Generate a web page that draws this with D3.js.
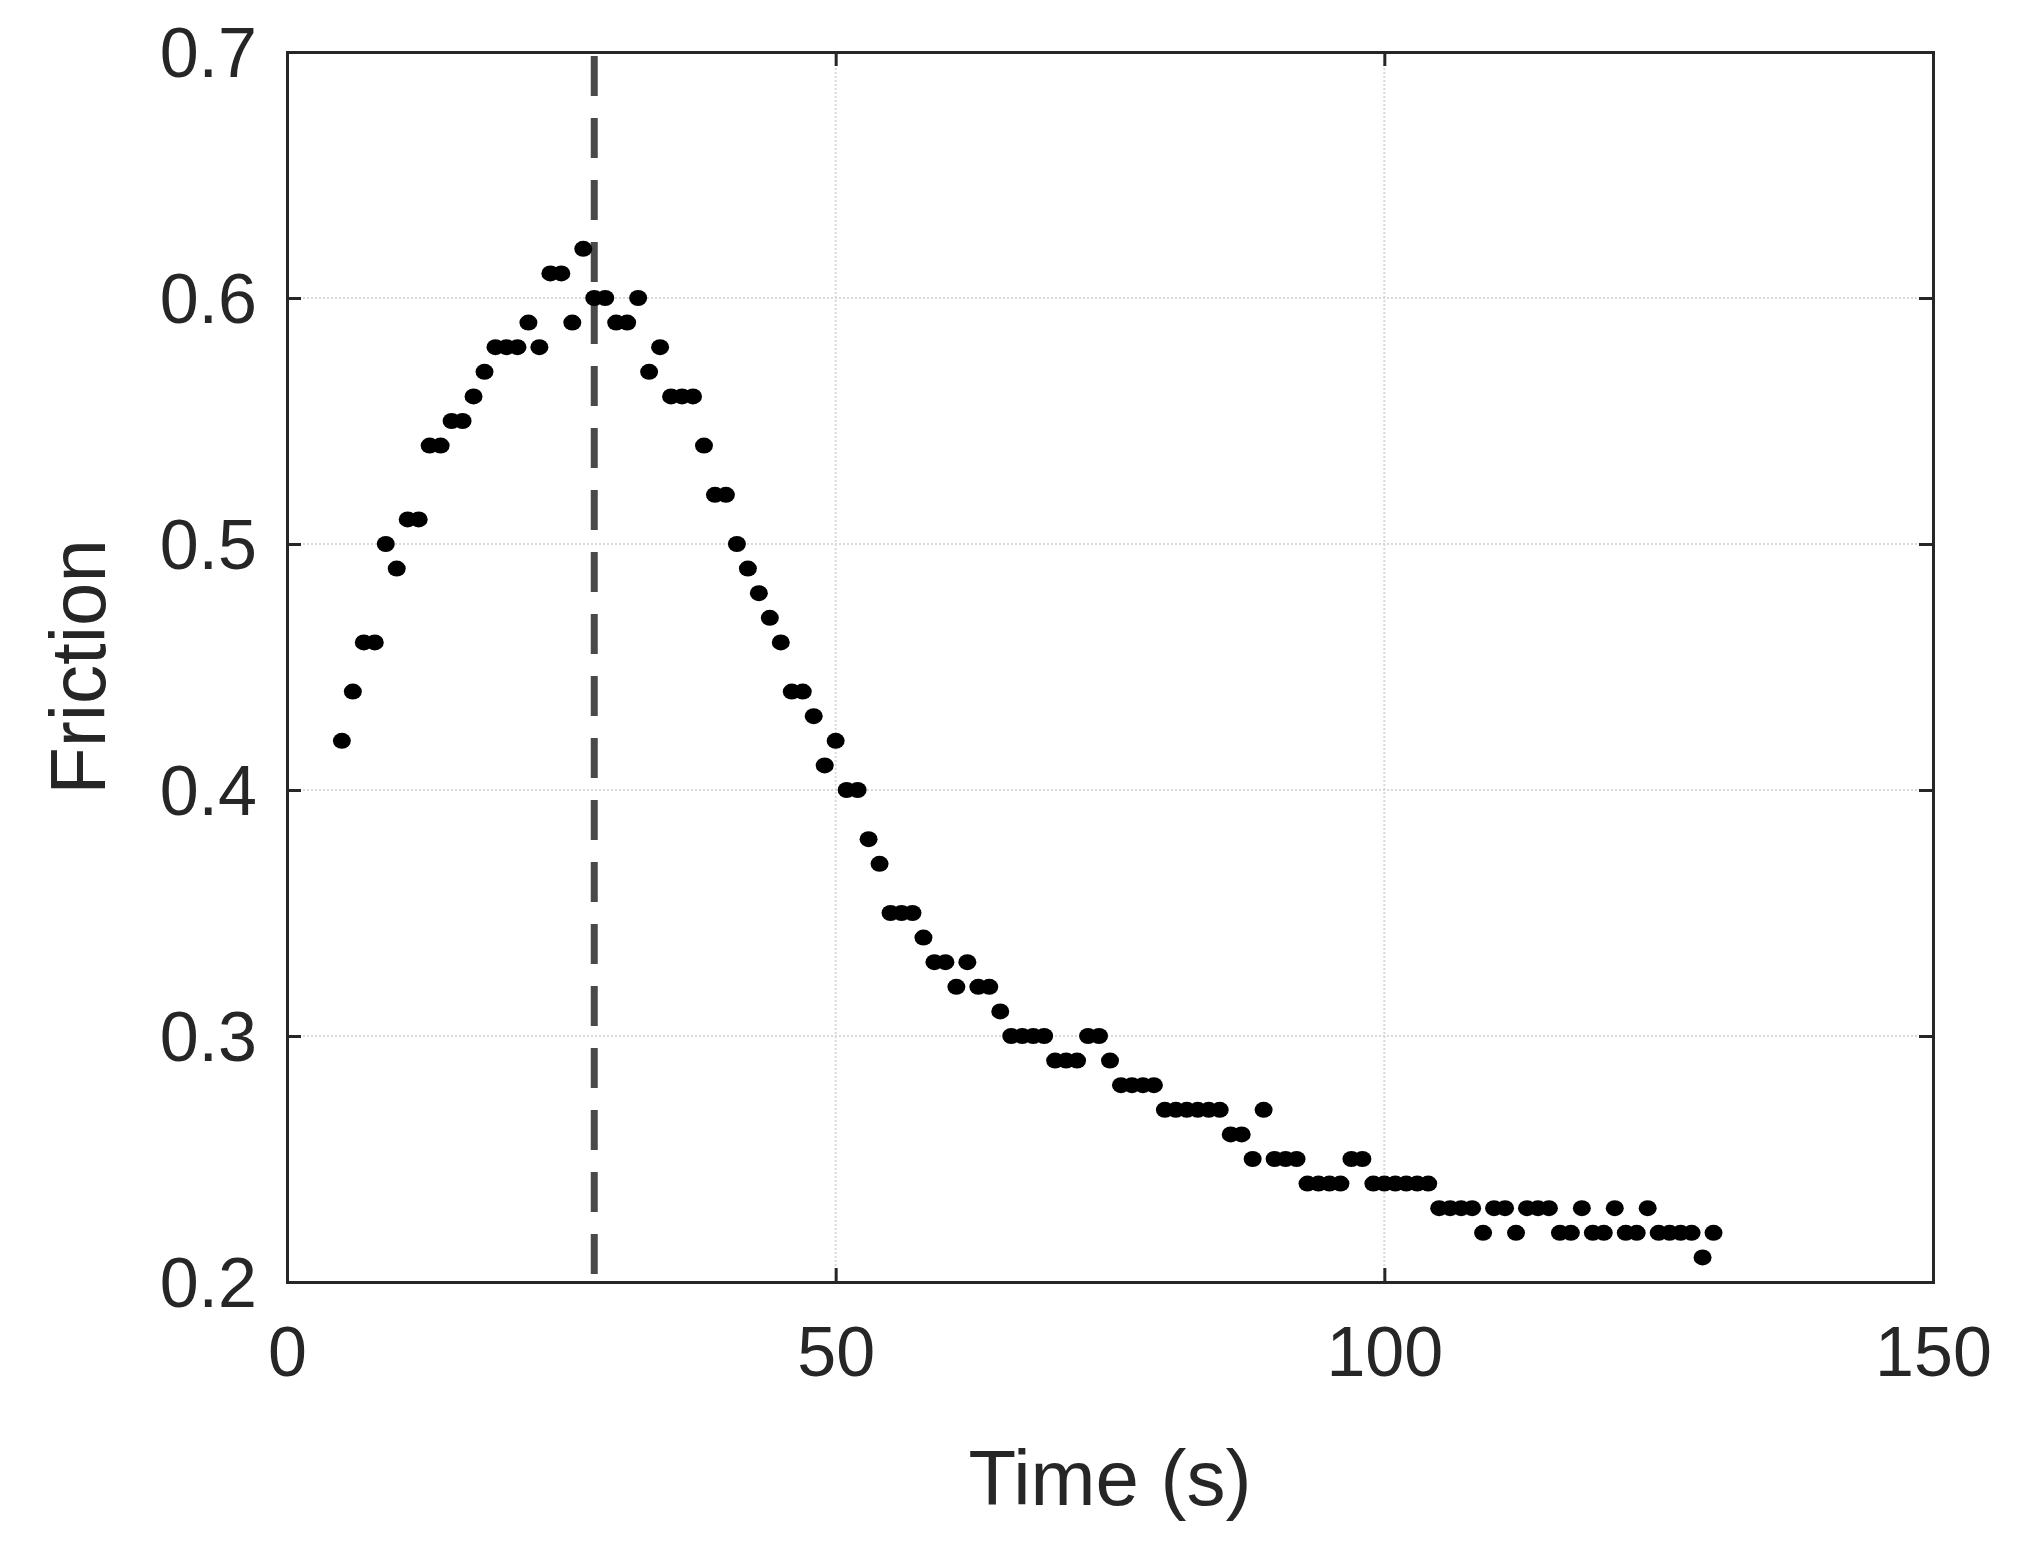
<!DOCTYPE html>
<html><head><meta charset="utf-8">
<script src="https://cdn.jsdelivr.net/npm/d3@7"></script>
<style>body{margin:0;background:#fff}</style></head>
<body><svg id="c" width="2024" height="1544"></svg>
<script>
const times = d3.range(5, 131);
const friction = [0.42,0.44,0.46,0.46,0.50,0.49,0.51,0.51,0.54,0.54,0.55,0.55,0.56,0.57,0.58,0.58,0.58,0.59,0.58,0.61,0.61,0.59,0.62,0.60,0.60,0.59,0.59,0.60,0.57,0.58,0.56,0.56,0.56,0.54,0.52,0.52,0.50,0.49,0.48,0.47,0.46,0.44,0.44,0.43,0.41,0.42,0.40,0.40,0.38,0.37,0.35,0.35,0.35,0.34,0.33,0.33,0.32,0.33,0.32,0.32,0.31,0.30,0.30,0.30,0.30,0.29,0.29,0.29,0.30,0.30,0.29,0.28,0.28,0.28,0.28,0.27,0.27,0.27,0.27,0.27,0.27,0.26,0.26,0.25,0.27,0.25,0.25,0.25,0.24,0.24,0.24,0.24,0.25,0.25,0.24,0.24,0.24,0.24,0.24,0.24,0.23,0.23,0.23,0.23,0.22,0.23,0.23,0.22,0.23,0.23,0.23,0.22,0.22,0.23,0.22,0.22,0.23,0.22,0.22,0.23,0.22,0.22,0.22,0.22,0.21,0.22];
const xTicks = [0,50,100,150];
const yTicks = [0.2,0.3,0.4,0.5,0.6,0.7];
const markerTime = 28;

const L=287,R=1933,T=52,B=1282;
const svg=d3.select("#c");
const x=d3.scaleLinear().domain([0,150]).range([L,R]);
const y=d3.scaleLinear().domain([0.2,0.7]).range([B,T]);
const font="Liberation Sans, Arial, sans-serif", col="#262626";

svg.append("g").selectAll("line").data(xTicks.slice(1,-1)).join("line")
  .attr("x1",d=>x(d)).attr("x2",d=>x(d)).attr("y1",T).attr("y2",B)
  .attr("stroke","#d8d8d8").attr("stroke-width",2).attr("stroke-dasharray","2,2");
svg.append("g").selectAll("line").data(yTicks.slice(1,-1)).join("line")
  .attr("y1",d=>y(d)).attr("y2",d=>y(d)).attr("x1",L).attr("x2",R)
  .attr("stroke","#d8d8d8").attr("stroke-width",2).attr("stroke-dasharray","2,2");

const ax=d3.axisBottom(x).tickValues(xTicks).tickSize(-14).tickPadding(44).tickFormat(d3.format("d"));
const ay=d3.axisLeft(y).tickValues(yTicks).tickSize(-14).tickPadding(30).tickFormat(d3.format(".1f"));
const gx=svg.append("g").attr("transform",`translate(0,${B})`).call(ax);
const gy=svg.append("g").attr("transform",`translate(${L},0)`).call(ay);
svg.append("g").attr("transform",`translate(0,${T})`).call(d3.axisTop(x).tickValues(xTicks).tickSize(-14).tickFormat(""));
svg.append("g").attr("transform",`translate(${R},0)`).call(d3.axisRight(y).tickValues(yTicks).tickSize(-14).tickFormat(""));
svg.selectAll(".domain").attr("stroke",col).attr("stroke-width",3);
svg.selectAll(".tick line").attr("stroke",col).attr("stroke-width",3);
svg.selectAll(".tick text").attr("fill",col).style("font-family",font).style("font-size","70px");
gx.selectAll(".tick text").attr("dy","0.71em");
gy.selectAll(".tick text").attr("dy","0.35em");

svg.append("line").attr("x1",x(markerTime)).attr("x2",x(markerTime)).attr("y1",T+4).attr("y2",B)
  .attr("stroke","#4a4a4a").attr("stroke-width",7).attr("stroke-dasharray","40,22");

svg.append("g").selectAll("ellipse").data(times.map((t,i)=>[t,friction[i]])).join("ellipse")
  .attr("cx",d=>x(d[0])).attr("cy",d=>y(d[1])).attr("rx",9).attr("ry",8).attr("fill","#000");

svg.append("text").attr("x",(L+R)/2).attr("y",1505).attr("text-anchor","middle")
  .attr("fill",col).style("font-family",font).style("font-size","78px").text("Time (s)");
svg.append("text").attr("transform",`translate(105,${(T+B)/2}) rotate(-90)`).attr("text-anchor","middle")
  .attr("fill",col).style("font-family",font).style("font-size","78px").text("Friction");
</script></body></html>
